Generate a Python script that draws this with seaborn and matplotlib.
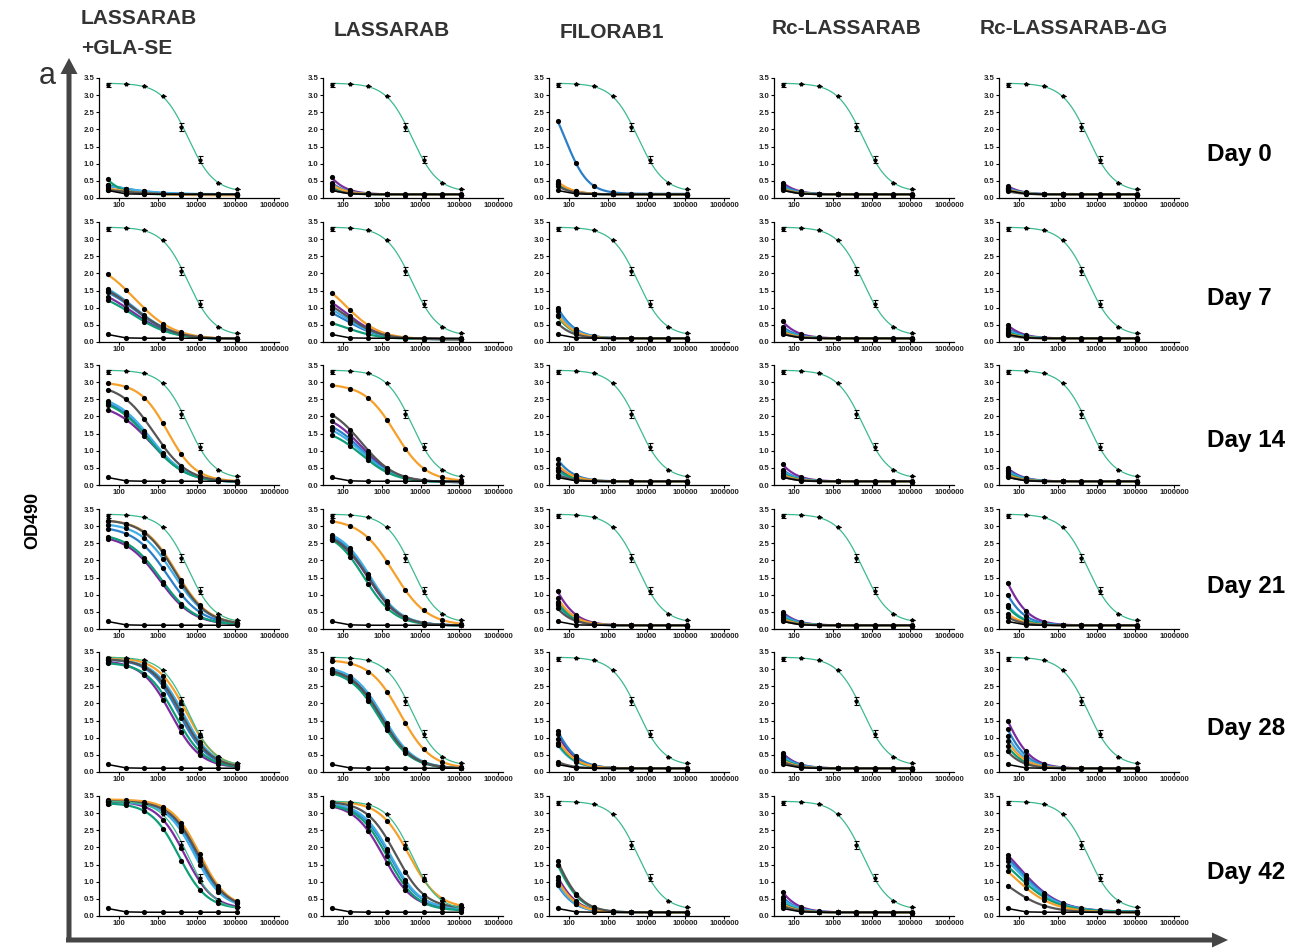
import numpy as np
import pandas as pd
import seaborn as sns
import matplotlib.pyplot as plt
from matplotlib.patches import FancyArrow
from matplotlib.ticker import NullLocator

# dilution series (x) and the panel grid
DILUTIONS = [50, 150, 450, 1350, 4050, 12150, 36450, 109350]
DAYS = ['Day 0', 'Day 7', 'Day 14', 'Day 21', 'Day 28', 'Day 42']
GROUPS = ['LASSARAB', 'LASSARAB', 'FILORAB1', 'Rc-LASSARAB', 'Rc-LASSARAB-ΔG']
SERIES = ['purple', 'blue', 'sky', 'green', 'orange', 'grey']
SERIES_COLORS = ['#7b2c9e', '#2b7fc8', '#41aee6', '#0f9e78', '#f5a02a', '#555555']

# positive control (same on every panel) and negative control
STANDARD_OD = [3.30, 3.33, 3.27, 2.98, 2.08, 1.12, 0.44, 0.25]
STANDARD_ERR = [0.06, 0, 0, 0, 0.12, 0.10, 0, 0]
STANDARD_FIT = (3.35, 6000, 1.3, 0.17)
CONTROL_OD = [0.22, 0.12, 0.11, 0.11, 0.11, 0.11, 0.11, 0.11]

# 4PL fits: (top, ec50, hill, bottom), series order as SERIES
FITS_GLA_SE = [
    [(0.6, 60, 0.8, 0.1), (0.55, 80, 0.8, 0.1), (0.5, 100, 0.8, 0.11), (3.35, 12, 1.3, 0.1), (0.45, 60, 0.8, 0.08), (0.35, 60, 0.8, 0.1)],
    [(1.67, 220, 0.85, 0.08), (1.80, 250, 0.85, 0.08), (1.92, 250, 0.85, 0.08), (1.54, 220, 0.85, 0.08), (2.45, 250, 0.85, 0.08), (1.86, 250, 0.85, 0.08)],
    [(2.4, 650, 0.9, 0.07), (2.6, 600, 0.95, 0.08), (2.65, 650, 0.95, 0.08), (2.55, 600, 0.95, 0.08), (3.0, 1800, 1.2, 0.1), (2.95, 800, 1.0, 0.08)],
    [(2.75, 1100, 1.0, 0.12), (3.0, 1800, 1.0, 0.12), (3.1, 2500, 1.0, 0.12), (2.8, 1200, 1.0, 0.12), (3.2, 3000, 1.05, 0.12), (3.2, 2800, 1.05, 0.12)],
    [(3.25, 2200, 1.15, 0.12), (3.3, 3500, 1.15, 0.12), (3.3, 4500, 1.15, 0.12), (3.2, 2800, 1.15, 0.12), (3.35, 5500, 1.15, 0.12), (3.3, 4000, 1.15, 0.12)],
    [(3.35, 5000, 1.2, 0.2), (3.35, 10000, 1.2, 0.22), (3.33, 9000, 1.2, 0.22), (3.3, 3500, 1.2, 0.2), (3.4, 12000, 1.2, 0.22), (3.35, 11000, 1.2, 0.22)],
]
FITS_LASSARAB = [
    [(3.35, 13.5, 1.3, 0.1), (3.35, 9.8, 1.3, 0.1), (3.35, 7.4, 1.3, 0.1), (3.35, 6.2, 1.3, 0.1), (3.35, 8.6, 1.3, 0.1), (3.35, 4.9, 1.3, 0.1)],
    [(1.60, 120, 1.0, 0.08), (1.17, 120, 1.0, 0.08), (1.31, 120, 1.0, 0.08), (0.75, 120, 1.0, 0.08), (2.0, 120, 1.0, 0.08), (1.45, 120, 1.0, 0.08)],
    [(2.15, 300, 1.0, 0.08), (1.97, 300, 1.0, 0.08), (1.85, 300, 1.0, 0.08), (1.68, 300, 1.0, 0.08), (2.95, 2200, 1.1, 0.1), (2.38, 300, 1.0, 0.08)],
    [(2.85, 450, 1.1, 0.1), (2.9, 480, 1.1, 0.1), (2.95, 500, 1.1, 0.1), (2.9, 350, 1.1, 0.1), (3.22, 2000, 1.0, 0.1), (2.85, 470, 1.1, 0.1)],
    [(3.0, 950, 1.1, 0.1), (3.05, 1000, 1.1, 0.1), (3.1, 1100, 1.1, 0.1), (3.0, 900, 1.1, 0.1), (3.28, 3000, 1.1, 0.1), (3.05, 1000, 1.1, 0.1)],
    [(3.28, 1100, 1.15, 0.2), (3.3, 1600, 1.15, 0.2), (3.32, 1700, 1.15, 0.2), (3.28, 1400, 1.15, 0.15), (3.35, 5000, 1.15, 0.22), (3.35, 2300, 1.15, 0.22)],
]
FITS_FILORAB1 = [
    [(3.35, 9.8, 1.3, 0.1), (3.3, 80, 1.5, 0.12), (3.35, 9.1, 1.3, 0.1), (3.35, 8.6, 1.3, 0.1), (3.35, 10.6, 1.3, 0.1), (3.35, 7.4, 1.3, 0.1)],
    [(3.35, 22.5, 1.3, 0.1), (3.35, 23.9, 1.3, 0.1), (3.35, 21.2, 1.3, 0.1), (3.35, 17.2, 1.3, 0.1), (3.35, 18.5, 1.3, 0.1), (3.35, 12.3, 1.3, 0.1)],
    [(3.35, 11, 1.3, 0.1), (3.35, 17.2, 1.3, 0.1), (3.35, 8.6, 1.3, 0.1), (3.35, 9.8, 1.3, 0.1), (3.35, 13.5, 1.3, 0.1), (3.35, 6.2, 1.3, 0.1)],
    [(3.35, 26.8, 1.3, 0.1), (3.35, 18.5, 1.3, 0.1), (3.35, 16, 1.3, 0.1), (3.35, 17.2, 1.3, 0.1), (3.35, 21.2, 1.3, 0.1), (3.35, 13.5, 1.3, 0.1)],
    [(3.35, 26.8, 1.3, 0.1), (3.35, 29.9, 1.3, 0.1), (3.35, 18.5, 1.3, 0.1), (3.35, 19.8, 1.3, 0.1), (3.35, 22.5, 1.3, 0.1), (3.35, 6.2, 1.3, 0.1)],
    [(3.35, 28.3, 1.3, 0.1), (3.35, 21.2, 1.3, 0.1), (3.35, 22.5, 1.3, 0.1), (3.35, 40.4, 1.3, 0.1), (3.35, 25.4, 1.3, 0.1), (3.35, 44.4, 1.3, 0.1)],
]
FITS_RC = [
    [(3.35, 9.8, 1.3, 0.1), (3.35, 8.1, 1.3, 0.1), (3.35, 6.9, 1.3, 0.1), (3.35, 6.2, 1.3, 0.1), (3.35, 5.6, 1.3, 0.1), (3.35, 4.9, 1.3, 0.1)],
    [(3.35, 13.5, 1.3, 0.1), (3.35, 9.8, 1.3, 0.1), (3.35, 8.1, 1.3, 0.1), (3.35, 6.9, 1.3, 0.1), (3.35, 6.2, 1.3, 0.1), (3.35, 4.9, 1.3, 0.1)],
    [(3.35, 13.5, 1.3, 0.1), (3.35, 9.8, 1.3, 0.1), (3.35, 8.6, 1.3, 0.1), (3.35, 7.4, 1.3, 0.1), (3.35, 6.2, 1.3, 0.1), (3.35, 4.9, 1.3, 0.1)],
    [(3.35, 11, 1.3, 0.1), (3.35, 9.8, 1.3, 0.1), (3.35, 8.6, 1.3, 0.1), (3.35, 7.4, 1.3, 0.1), (3.35, 6.2, 1.3, 0.1), (3.35, 4.9, 1.3, 0.1)],
    [(3.35, 12.3, 1.3, 0.1), (3.35, 11, 1.3, 0.1), (3.35, 9.8, 1.3, 0.1), (3.35, 8.6, 1.3, 0.1), (3.35, 7.4, 1.3, 0.1), (3.35, 6.2, 1.3, 0.1)],
    [(3.35, 16, 1.3, 0.1), (3.35, 12.3, 1.3, 0.1), (3.35, 11, 1.3, 0.1), (3.35, 8.6, 1.3, 0.1), (3.35, 7.4, 1.3, 0.1), (3.35, 6.2, 1.3, 0.1)],
]
FITS_RC_DG = [
    [(3.35, 7.4, 1.3, 0.1), (3.35, 6.2, 1.3, 0.1), (3.35, 5.6, 1.3, 0.1), (3.35, 4.9, 1.3, 0.1), (3.35, 4.9, 1.3, 0.1), (3.35, 3.5, 1.3, 0.1)],
    [(3.35, 11, 1.3, 0.1), (3.35, 8.6, 1.3, 0.1), (3.35, 7.4, 1.3, 0.1), (3.35, 6.2, 1.3, 0.1), (3.35, 4.9, 1.3, 0.1), (3.35, 3.5, 1.3, 0.1)],
    [(3.35, 11, 1.3, 0.1), (3.35, 9.8, 1.3, 0.1), (3.35, 8.6, 1.3, 0.1), (3.35, 7.4, 1.3, 0.1), (3.35, 6.2, 1.3, 0.1), (3.35, 4.9, 1.3, 0.1)],
    [(3.35, 34.8, 1.3, 0.1), (3.35, 23.9, 1.3, 0.1), (3.35, 16, 1.3, 0.1), (3.35, 14.7, 1.3, 0.1), (3.35, 9.8, 1.3, 0.1), (3.35, 7.4, 1.3, 0.1)],
    [(3.35, 40.4, 1.3, 0.1), (3.35, 31.5, 1.3, 0.1), (3.35, 25.4, 1.3, 0.1), (3.35, 17.2, 1.3, 0.1), (3.35, 21.2, 1.3, 0.1), (3.35, 13.5, 1.3, 0.1)],
    [(2.7, 100, 0.85, 0.12), (2.6, 95, 0.85, 0.12), (2.5, 90, 0.85, 0.12), (2.3, 85, 0.85, 0.12), (2.2, 70, 0.85, 0.1), (1.6, 55, 0.9, 0.1)],
]
ALL_FITS = [FITS_GLA_SE, FITS_LASSARAB, FITS_FILORAB1, FITS_RC, FITS_RC_DG]

W, H = 1302, 951
COL_LEFT = [99, 323, 549, 774, 999]
ROW_BOTTOM = [198, 342, 485, 629, 772, 916]
PANEL_W, PANEL_H = 180, 120
ARROW = '#454545'


def four_pl(x, top, ec50, hill, bottom):
    x = np.asarray(x, dtype=float)
    return bottom + (top - bottom) / (1 + (x / ec50) ** hill)


def draw_panel(ax, fits):
    grid = np.geomspace(DILUTIONS[0], DILUTIONS[-1], 200)
    points = []
    for name, color, fit in zip(SERIES, SERIES_COLORS, fits):
        sns.lineplot(x=grid, y=four_pl(grid, *fit), ax=ax, color=color,
                     lw=1.6, estimator=None, zorder=2)
        points.append(pd.DataFrame({'x': DILUTIONS, 'y': four_pl(DILUTIONS, *fit)}))
    sns.lineplot(x=DILUTIONS, y=CONTROL_OD, ax=ax, color='black', lw=1.1,
                 estimator=None, zorder=3)
    pts = pd.concat(points + [pd.DataFrame({'x': DILUTIONS, 'y': CONTROL_OD})])
    sns.scatterplot(data=pts, x='x', y='y', ax=ax, color='black', s=14,
                    linewidth=0, zorder=4)

    # positive control curve on top
    sns.lineplot(x=grid, y=four_pl(grid, *STANDARD_FIT), ax=ax, color='#3dba8c',
                 lw=0.9, estimator=None, zorder=5)
    ax.errorbar(DILUTIONS, STANDARD_OD, yerr=STANDARD_ERR, fmt='*', color='black',
                ms=2.8, elinewidth=0.8, capsize=1.8, capthick=0.8, zorder=6)

    ax.set_xscale('log')
    ax.set_xlim(30, 1.35e6)
    ax.set_ylim(0, 3.5)
    ax.set_xticks([100, 1000, 10000, 100000, 1000000])
    ax.set_xticklabels(['100', '1000', '10000', '100000', '1000000'])
    ax.xaxis.set_minor_locator(NullLocator())
    yt = np.arange(0, 3.51, 0.5)
    ax.set_yticks(yt)
    ax.set_yticklabels([f'{v:.1f}' for v in yt])
    ax.tick_params(labelsize=5.6, length=2, width=0.8, pad=1.2, colors='black')
    for lab in ax.get_xticklabels() + ax.get_yticklabels():
        lab.set_fontweight('bold')
        lab.set_color('#222222')
    ax.set_xlabel('')
    ax.set_ylabel('')
    for side in ['left', 'bottom']:
        ax.spines[side].set_linewidth(0.9)
        ax.spines[side].set_color('black')
    sns.despine(ax=ax)
    ax.patch.set_alpha(0)


def main():
    sns.set_theme(style='ticks')
    plt.rcParams['font.family'] = ['Liberation Sans', 'DejaVu Sans']

    fig = plt.figure(figsize=(W / 100, H / 100), dpi=100)

    # background layer: arrows and labels in pixel coordinates
    bg = fig.add_axes([0, 0, 1, 1])
    bg.set_xlim(0, W)
    bg.set_ylim(H, 0)
    bg.axis('off')
    bg.add_patch(FancyArrow(69, 938, 0, -880, width=5, head_width=17, head_length=16,
                            length_includes_head=True, color=ARROW, lw=0))
    bg.add_patch(FancyArrow(66, 940, 1162, 0, width=5, head_width=15, head_length=16,
                            length_includes_head=True, color=ARROW, lw=0))

    title_kw = dict(fontsize=15, fontweight='bold', color='#333333', va='center')
    bg.text(81, 18, 'LASSARAB', ha='left', **title_kw)
    bg.text(81, 48, '+GLA-SE', ha='left', **title_kw)
    for name, cx, cy in zip(GROUPS[1:], [392, 612, 847, 1074], [30, 33, 28, 28]):
        bg.text(cx, cy, name, ha='center', **title_kw)

    for day, cy in zip(DAYS, [155, 299, 441, 586, 728, 873]):
        bg.text(1207, cy, day, ha='left', va='center', fontsize=17.5,
                fontweight='bold', color='black')

    bg.text(47, 76, 'a', ha='center', va='center', fontsize=22, color='#333333')
    bg.text(33, 520, 'OD490', ha='center', va='center', rotation=90,
            fontsize=13, fontweight='bold', color='black')

    for c, fits_by_day in enumerate(ALL_FITS):
        for r, fits in enumerate(fits_by_day):
            ax = fig.add_axes([COL_LEFT[c] / W, 1 - ROW_BOTTOM[r] / H,
                               PANEL_W / W, PANEL_H / H])
            draw_panel(ax, fits)

    fig.savefig('out.png', dpi=100)


if __name__ == '__main__':
    main()
